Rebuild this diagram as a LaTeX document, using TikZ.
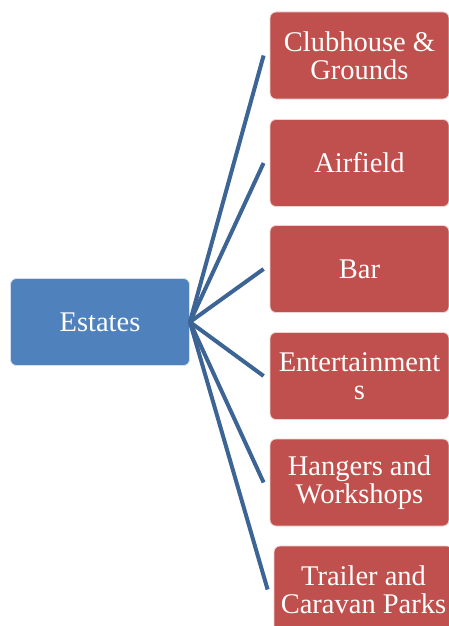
\documentclass[tikz,border=0pt]{standalone}
\usepackage{fontspec}
\setmainfont{Liberation Serif}
\definecolor{estateblue}{HTML}{4F81BD}
\definecolor{partred}{HTML}{C0504D}
\definecolor{linkblue}{HTML}{3C6494}

\begin{document}
\begin{tikzpicture}[x=1pt, y=-1pt,
    box/.style={rounded corners=6pt, draw=white!75!#1, line width=0.8pt, fill=#1,
        text=white, minimum width=179pt, minimum height=87pt, align=center,
        inner sep=1pt, font=\fontsize{28.5}{28}\selectfont},
    link/.style={draw=linkblue, line width=4pt}]

    \useasboundingbox (0,0) rectangle (449,626);
    \clip (0,0) rectangle (449,626);

    % Root box
    \node[box=estateblue] (estates) at (100,322) {Estates};

    % Parts of the estate
    \node[box=partred] (club) at (359.5,55.5) {Clubhouse \&\\Grounds};
    \node[box=partred] (air) at (359.5,163) {Airfield};
    \node[box=partred] (bar) at (359.5,269) {Bar};
    \node[box=partred] (fun) at (359.5,376) {Entertainment\\s};
    \node[box=partred] (hangar) at (359.5,482.5) {Hangers and\\Workshops};
    \node[box=partred] (trailer) at (363.5,589.5) {Trailer and\\Caravan Parks};

    % Links from the root
    \foreach \n in {club,air,bar,fun,hangar,trailer} {
        \draw[link] (estates.east) -- ([xshift=-6pt]\n.west);
    }

\end{tikzpicture}
\end{document}
